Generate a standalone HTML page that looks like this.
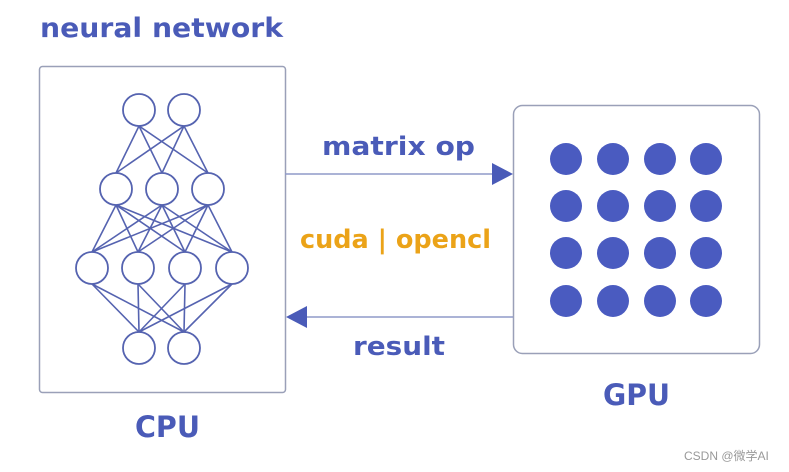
<!DOCTYPE html>
<html><head><meta charset="utf-8"><style>
html,body{margin:0;padding:0;background:#fff;}
svg{display:block;}
</style></head><body>
<svg width="789" height="472" viewBox="0 0 789 472" xmlns="http://www.w3.org/2000/svg">
<g font-family="'DejaVu Sans', sans-serif" font-weight="bold" fill="#4a5bb8">
<text x="40" y="37" font-size="27" textLength="243" lengthAdjust="spacingAndGlyphs">neural network</text>
<text x="135" y="437" font-size="29" textLength="65" lengthAdjust="spacingAndGlyphs">CPU</text>
<text x="603" y="405" font-size="29" textLength="67" lengthAdjust="spacingAndGlyphs">GPU</text>
<text x="322" y="155" font-size="26" textLength="153" lengthAdjust="spacingAndGlyphs">matrix op</text>
<text x="353" y="355" font-size="26" textLength="92" lengthAdjust="spacingAndGlyphs">result</text>
<text x="300" y="248" font-size="26" fill="#eba318" textLength="191" lengthAdjust="spacingAndGlyphs">cuda | opencl</text>
</g>
<rect x="39.5" y="66.5" width="246" height="326" rx="3" fill="none" stroke="#9aa0b8" stroke-width="1.5"/>
<rect x="513.5" y="105.5" width="246" height="248" rx="9" fill="none" stroke="#9aa0b8" stroke-width="1.5"/>
<line x1="285" y1="174" x2="495" y2="174" stroke="#8f9ac8" stroke-width="1.5"/>
<polygon points="513,174 492,163 492,185" fill="#4a5bb8"/>
<line x1="305" y1="317" x2="513" y2="317" stroke="#8f9ac8" stroke-width="1.5"/>
<polygon points="286,317 307,306 307,328" fill="#4a5bb8"/>
<g fill="#4a5bc0">
<circle cx="566" cy="159" r="16"/><circle cx="613" cy="159" r="16"/><circle cx="660" cy="159" r="16"/><circle cx="706" cy="159" r="16"/>
<circle cx="566" cy="206" r="16"/><circle cx="613" cy="206" r="16"/><circle cx="660" cy="206" r="16"/><circle cx="706" cy="206" r="16"/>
<circle cx="566" cy="253" r="16"/><circle cx="613" cy="253" r="16"/><circle cx="660" cy="253" r="16"/><circle cx="706" cy="253" r="16"/>
<circle cx="566" cy="301" r="16"/><circle cx="613" cy="301" r="16"/><circle cx="660" cy="301" r="16"/><circle cx="706" cy="301" r="16"/>
</g>
<g stroke="#5563b0" stroke-width="1.6" fill="none">
<line x1="139" y1="126" x2="116" y2="173"/><line x1="139" y1="126" x2="162" y2="173"/><line x1="139" y1="126" x2="208" y2="173"/>
<line x1="184" y1="126" x2="116" y2="173"/><line x1="184" y1="126" x2="162" y2="173"/><line x1="184" y1="126" x2="208" y2="173"/>
<line x1="116" y1="205" x2="92" y2="252"/><line x1="116" y1="205" x2="138" y2="252"/><line x1="116" y1="205" x2="185" y2="252"/><line x1="116" y1="205" x2="232" y2="252"/>
<line x1="162" y1="205" x2="92" y2="252"/><line x1="162" y1="205" x2="138" y2="252"/><line x1="162" y1="205" x2="185" y2="252"/><line x1="162" y1="205" x2="232" y2="252"/>
<line x1="208" y1="205" x2="92" y2="252"/><line x1="208" y1="205" x2="138" y2="252"/><line x1="208" y1="205" x2="185" y2="252"/><line x1="208" y1="205" x2="232" y2="252"/>
<line x1="92" y1="284" x2="139" y2="332"/><line x1="92" y1="284" x2="184" y2="332"/>
<line x1="138" y1="284" x2="139" y2="332"/><line x1="138" y1="284" x2="184" y2="332"/>
<line x1="185" y1="284" x2="139" y2="332"/><line x1="185" y1="284" x2="184" y2="332"/>
<line x1="232" y1="284" x2="139" y2="332"/><line x1="232" y1="284" x2="184" y2="332"/>
</g>
<g stroke="#5563b0" stroke-width="1.8" fill="#fff">
<circle cx="139" cy="110" r="16"/><circle cx="184" cy="110" r="16"/>
<circle cx="116" cy="189" r="16"/><circle cx="162" cy="189" r="16"/><circle cx="208" cy="189" r="16"/>
<circle cx="92" cy="268" r="16"/><circle cx="138" cy="268" r="16"/><circle cx="185" cy="268" r="16"/><circle cx="232" cy="268" r="16"/>
<circle cx="139" cy="348" r="16"/><circle cx="184" cy="348" r="16"/>
</g>
<text x="684" y="460" font-size="12" fill="#999" font-family="'Liberation Sans','Noto Sans CJK SC',sans-serif">CSDN @微学AI</text>
</svg>
</body></html>
